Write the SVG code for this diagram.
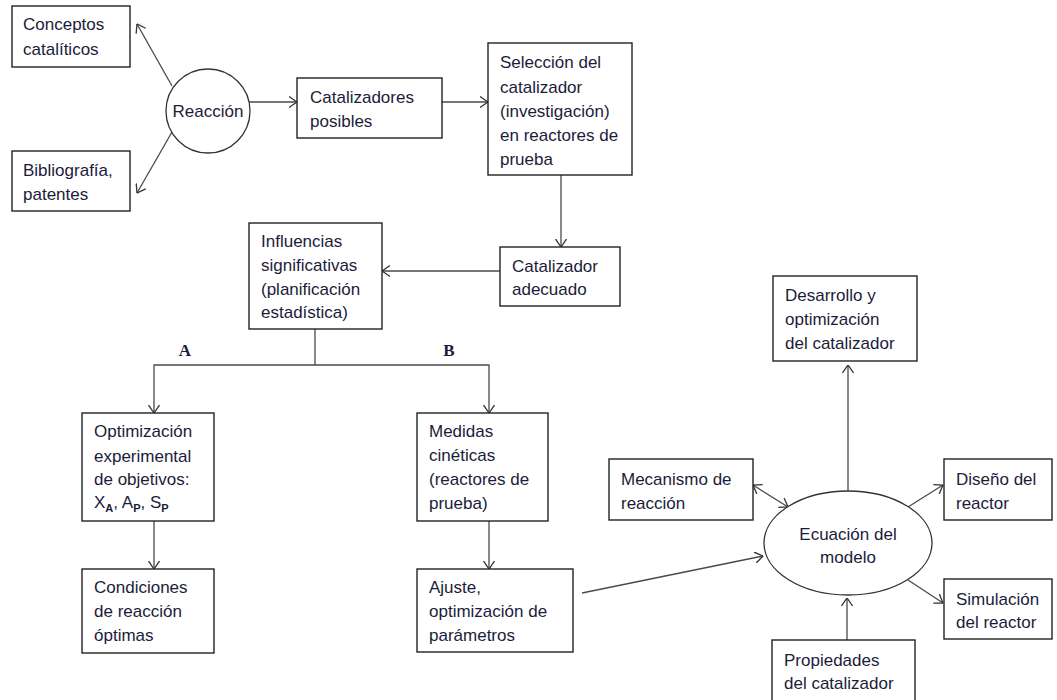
<svg xmlns="http://www.w3.org/2000/svg" width="1057" height="700" viewBox="0 0 1057 700">
<style>
.box{fill:#fff;stroke:#222;stroke-width:1.4}
.t{font-family:"Liberation Sans",Arial,sans-serif;font-size:17px;fill:#1c1c3a}
.c{text-anchor:middle}
.lbl{font-family:"Liberation Serif","Times New Roman",serif;font-size:17px;font-weight:bold;fill:#1c1c3a;text-anchor:middle}
.sub{font-size:11px;font-weight:bold}
.ln{fill:none;stroke:#4a4a4a;stroke-width:1.3}
.ar{marker-end:url(#ah)}
</style>
<defs>
<marker id="ah" viewBox="0 0 9 12" refX="8.5" refY="6" markerWidth="9" markerHeight="12" markerUnits="userSpaceOnUse" orient="auto-start-reverse">
<path d="M0.5,0.5 L8.5,6 L0.5,11.5" fill="none" stroke="#333" stroke-width="1.3"/>
</marker>
</defs>
<rect width="1057" height="700" fill="#fff"/>
<g id="connectors">
<line class="ln ar" x1="172" y1="86" x2="137" y2="24"/>
<line class="ln ar" x1="172" y1="132" x2="137" y2="193"/>
<line class="ln ar" x1="249" y1="102" x2="297" y2="102"/>
<line class="ln ar" x1="442" y1="102" x2="488" y2="102"/>
<line class="ln ar" x1="561" y1="175" x2="561" y2="247"/>
<line class="ln ar" x1="500" y1="271" x2="382" y2="271"/>
<polyline class="ln" points="315,329 315,365"/>
<polyline class="ln ar" points="315,365 154,365 154,413"/>
<polyline class="ln ar" points="315,365 489,365 489,413"/>
<line class="ln ar" x1="154" y1="521" x2="154" y2="569"/>
<line class="ln ar" x1="489" y1="521" x2="489" y2="569"/>
<line class="ln ar" x1="582" y1="593" x2="763" y2="556"/>
<line class="ln ar" x1="848" y1="491" x2="848" y2="365"/>
<line class="ln ar" x1="753" y1="485" x2="788" y2="507" style="marker-start:url(#ah)"/>
<line class="ln ar" x1="908" y1="507" x2="943" y2="485"/>
<line class="ln ar" x1="908" y1="580" x2="943" y2="603"/>
<line class="ln ar" x1="847" y1="640" x2="847" y2="598"/>
</g>
<g id="conceptos">
<rect class="box" x="12" y="6" width="118" height="61"/>
<text class="t" x="23" y="30">Conceptos</text>
<text class="t" x="23" y="55">catalíticos</text>
</g>
<g id="bibliografia">
<rect class="box" x="12" y="151" width="118" height="60"/>
<text class="t" x="23" y="176">Bibliografía,</text>
<text class="t" x="23" y="200">patentes</text>
</g>
<g id="reaccion">
<circle cx="208" cy="111" r="42" fill="#fff" stroke="#333" stroke-width="1.3"/>
<text class="t c" x="208" y="117">Reacción</text>
</g>
<g id="catalizadores">
<rect class="box" x="297" y="78" width="145" height="60"/>
<text class="t" x="310" y="103">Catalizadores</text>
<text class="t" x="310" y="127">posibles</text>
</g>
<g id="seleccion">
<rect class="box" x="488" y="43" width="144" height="132"/>
<text class="t" x="500" y="68">Selección del</text>
<text class="t" x="500" y="93">catalizador</text>
<text class="t" x="500" y="117">(investigación)</text>
<text class="t" x="500" y="141">en reactores de</text>
<text class="t" x="500" y="165">prueba</text>
</g>
<g id="adecuado">
<rect class="box" x="500" y="247" width="120" height="59"/>
<text class="t" x="512" y="272">Catalizador</text>
<text class="t" x="512" y="295">adecuado</text>
</g>
<g id="influencias">
<rect class="box" x="249" y="223" width="133" height="106"/>
<text class="t" x="261" y="247">Influencias</text>
<text class="t" x="261" y="271">significativas</text>
<text class="t" x="261" y="295">(planificación</text>
<text class="t" x="261" y="318">estadística)</text>
</g>
<g id="labelA"><text class="lbl" x="185" y="356">A</text></g>
<g id="labelB"><text class="lbl" x="449" y="356">B</text></g>
<g id="optimizacion">
<rect class="box" x="82" y="413" width="132" height="108"/>
<text class="t" x="94" y="437">Optimización</text>
<text class="t" x="94" y="462">experimental</text>
<text class="t" x="94" y="485">de objetivos:</text>
<text class="t" x="94" y="508">X<tspan class="sub" dy="4">A</tspan><tspan dy="-4">, A</tspan><tspan class="sub" dy="4">P</tspan><tspan dy="-4">, S</tspan><tspan class="sub" dy="4">P</tspan></text>
</g>
<g id="medidas">
<rect class="box" x="417" y="413" width="131" height="108"/>
<text class="t" x="429" y="437">Medidas</text>
<text class="t" x="429" y="461">cinéticas</text>
<text class="t" x="429" y="485">(reactores de</text>
<text class="t" x="429" y="509">prueba)</text>
</g>
<g id="condiciones">
<rect class="box" x="82" y="569" width="132" height="84"/>
<text class="t" x="94" y="593">Condiciones</text>
<text class="t" x="94" y="617">de reacción</text>
<text class="t" x="94" y="641">óptimas</text>
</g>
<g id="ajuste">
<rect class="box" x="417" y="569" width="156" height="83"/>
<text class="t" x="429" y="593">Ajuste,</text>
<text class="t" x="429" y="617">optimización de</text>
<text class="t" x="429" y="641">parámetros</text>
</g>
<g id="desarrollo">
<rect class="box" x="773" y="276" width="144" height="85"/>
<text class="t" x="785" y="301">Desarrollo y</text>
<text class="t" x="785" y="325">optimización</text>
<text class="t" x="785" y="349">del catalizador</text>
</g>
<g id="mecanismo">
<rect class="box" x="609" y="459" width="144" height="61"/>
<text class="t" x="621" y="485">Mecanismo de</text>
<text class="t" x="621" y="509">reacción</text>
</g>
<g id="ecuacion">
<ellipse cx="848" cy="543" rx="84" ry="52" fill="#fff" stroke="#333" stroke-width="1.3"/>
<text class="t c" x="848" y="540">Ecuación del</text>
<text class="t c" x="848" y="563">modelo</text>
</g>
<g id="diseno">
<rect class="box" x="944" y="459" width="108" height="61"/>
<text class="t" x="956" y="485">Diseño del</text>
<text class="t" x="956" y="509">reactor</text>
</g>
<g id="simulacion">
<rect class="box" x="944" y="579" width="108" height="60"/>
<text class="t" x="956" y="605">Simulación</text>
<text class="t" x="956" y="628">del reactor</text>
</g>
<g id="propiedades">
<rect class="box" x="772" y="640" width="143" height="62"/>
<text class="t" x="784" y="666">Propiedades</text>
<text class="t" x="784" y="689">del catalizador</text>
</g>
</svg>
